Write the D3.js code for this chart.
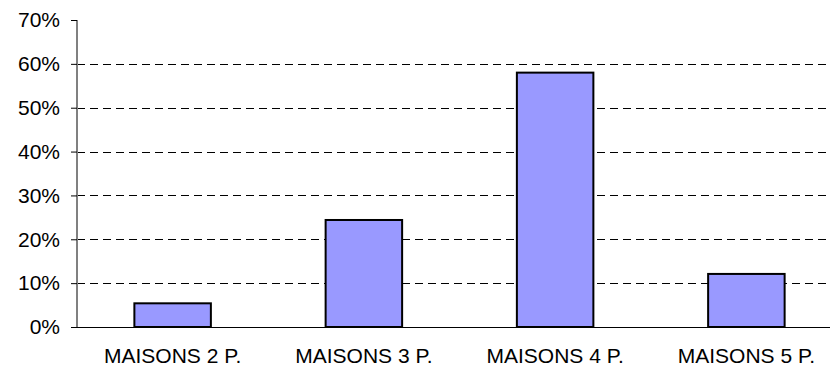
<!DOCTYPE html>
<html>
<head>
<meta charset="utf-8">
<script src="https://cdn.jsdelivr.net/npm/d3@7"></script>
<style>
  html, body { margin: 0; padding: 0; background: #fff; }
  svg { display: block; }
  text { font-family: "Liberation Sans", Arial, sans-serif; fill: #000; }
</style>
</head>
<body>
<svg id="chart" width="830" height="368"></svg>
<script>
// Share of houses by number of rooms
const categories = ["MAISONS 2 P.", "MAISONS 3 P.", "MAISONS 4 P.", "MAISONS 5 P."];
const shares = [0.054, 0.244, 0.580, 0.121];
const yTicks = [0, 0.1, 0.2, 0.3, 0.4, 0.5, 0.6, 0.7];

const svg = d3.select("#chart");
const plot = { left: 77, right: 842, top: 20, bottom: 327 };
const fontSize = "21px";

const x = d3.scaleBand()
  .domain(categories)
  .range([plot.left, plot.right])
  .paddingInner(0.6)
  .paddingOuter(0.3);

const y = d3.scaleLinear()
  .domain([0, 0.7])
  .range([plot.bottom, plot.top]);

// Dashed gridlines
svg.append("g")
  .selectAll("line")
  .data(yTicks.filter(d => d > 0 && d < 0.7))
  .join("line")
  .attr("x1", plot.left)
  .attr("x2", plot.right)
  .attr("y1", d => Math.round(y(d)) + 0.5)
  .attr("y2", d => Math.round(y(d)) + 0.5)
  .attr("stroke", "#000")
  .attr("stroke-width", 1)
  .attr("stroke-dasharray", "8,5");

// Bars
svg.append("g")
  .selectAll("rect")
  .data(categories)
  .join("rect")
  .attr("x", d => x(d))
  .attr("y", (d, i) => y(shares[i]))
  .attr("width", x.bandwidth())
  .attr("height", (d, i) => y(0) - y(shares[i]))
  .attr("fill", "#9999ff")
  .attr("stroke", "#000")
  .attr("stroke-width", 2);

// X axis baseline
svg.append("line")
  .attr("x1", plot.left).attr("x2", plot.right)
  .attr("y1", plot.bottom + 0.5).attr("y2", plot.bottom + 0.5)
  .attr("stroke", "#000").attr("stroke-width", 1);

// Y axis
const yAxis = svg.append("g")
  .attr("transform", `translate(${plot.left},0)`)
  .call(d3.axisLeft(y).tickValues(yTicks).tickFormat(d3.format(".0%")).tickSize(6).tickPadding(11));
yAxis.select(".domain").attr("stroke", "#808080").attr("stroke-width", 2).attr("d", `M0,${plot.top}V${plot.bottom}`);
yAxis.selectAll(".tick line").attr("stroke", "#000");
yAxis.selectAll(".tick text")
  .style("font-size", fontSize)
  .attr("fill", "#000");

// Category labels
svg.append("g")
  .attr("transform", `translate(0,${plot.bottom})`)
  .call(d3.axisBottom(x).tickSize(0).tickPadding(21))
  .call(g => g.select(".domain").remove())
  .selectAll("text")
  .style("font-size", fontSize)
  .attr("fill", "#000");
</script>
</body>
</html>
